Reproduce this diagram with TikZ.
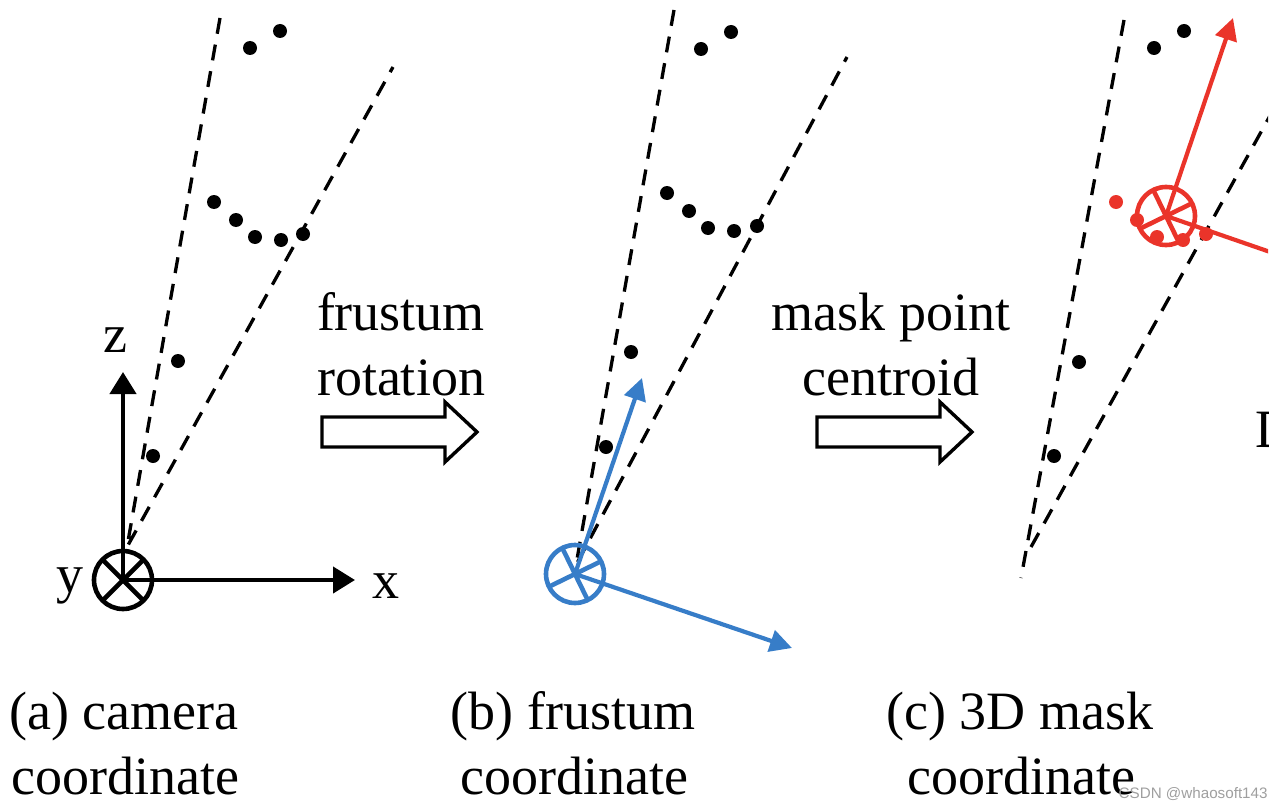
\documentclass[tikz,border=0pt]{standalone}
\usepackage{fontspec}
\setmainfont{Liberation Serif}
\setsansfont{Liberation Sans}
\usetikzlibrary{arrows.meta}
\definecolor{frameblue}{RGB}{55,125,200}
\definecolor{framered}{RGB}{234,52,42}

\begin{document}
\begin{tikzpicture}[x=0.5pt,y=-0.5pt,
    ray/.style={line width=1.65pt, dash pattern=on 8pt off 5.5pt},
    axis/.style={line width=2.1pt, -{Triangle[length=11pt,width=13pt]}},
    caxis/.style={line width=2.1pt, -{Triangle[length=11pt,width=11pt]}},
    ring/.style={line width=2.3pt},
    txt/.style={font=\fontsize{27pt}{32pt}\selectfont, inner sep=0pt, anchor=base},
    shaft/.style={line width=1.7pt, fill=white, line join=miter}]
  \useasboundingbox (0,0) rectangle (1284,808);
  \begin{scope}
    \clip (0,0) rectangle (1268,808);

    % (a) camera coordinate
    \coordinate (a0) at (127,547);
    \coordinate (a1) at (220,18);
    \coordinate (a2) at (393,67);
    \coordinate (ca) at (123,580);
    \coordinate (za) at (123,372);
    \coordinate (xa) at (355,580);

    \draw[ray] (a1) -- (a0) -- (a2);
    \foreach \p in {(250,48),(280,31),(214,202),(236,220),(255,237),(281,240),(303,234),(178,361),(153,456)}
      \fill \p circle[radius=3.5pt];

    \draw[ring] (ca) circle[radius=14.5pt];
    \draw[ring] (ca) +(45:14.5pt) -- +(225:14.5pt);
    \draw[ring] (ca) +(135:14.5pt) -- +(315:14.5pt);
    \draw[axis] (ca) -- (za);
    \draw[axis] (ca) -- (xa);

    \node[txt] (zl) at (115,352) {z};
    \node[txt] (yl) at (70,592) {y};
    \node[txt] (xl) at (386,598) {x};

    % (b) frustum coordinate
    \coordinate (b0) at (576,565);
    \coordinate (b1) at (674,10);
    \coordinate (b2) at (847,57);
    \coordinate (cb) at (575,574);
    \coordinate (zb) at (642,378);
    \coordinate (xb) at (792,648);

    \draw[ray] (b1) -- (b0) -- (b2);
    \foreach \p in {(701,49),(731,32),(667,193),(689,211),(708,228),(734,231),(757,226),(631,352),(606,447)}
      \fill \p circle[radius=3.5pt];

    \draw[ring, frameblue] (cb) circle[radius=14.5pt];
    \draw[ring, frameblue] (cb) +(26:14.5pt) -- +(206:14.5pt);
    \draw[ring, frameblue] (cb) +(116:14.5pt) -- +(296:14.5pt);
    \draw[caxis, frameblue] (cb) -- (zb);
    \draw[caxis, frameblue] (cb) -- (xb);

    % (c) 3D mask coordinate
    \coordinate (c0) at (1031,547);
    \coordinate (c1) at (1124,20);
    \coordinate (c2) at (1297,67);
    \coordinate (c3) at (1021,578);
    \coordinate (cc) at (1166,216);
    \coordinate (zc) at (1233,18);
    \coordinate (xc) at (1383,291);

    \draw[ray] (c1) -- (c3);
    \draw[ray] (c0) -- (c2);
    \foreach \p in {(1154,48),(1184,31),(1079,362),(1054,456)}
      \fill \p circle[radius=3.5pt];

    \draw[ring, framered] (cc) circle[radius=14.5pt];
    \draw[ring, framered] (cc) +(26:14.5pt) -- +(206:14.5pt);
    \draw[ring, framered] (cc) +(116:14.5pt) -- +(296:14.5pt);
    \draw[caxis, framered] (cc) -- (zc);
    \draw[caxis, framered] (cc) -- (xc);
    \foreach \p in {(1116,202),(1137,220),(1157,237),(1183,240),(1206,234)}
      \fill[framered] \p circle[radius=3.5pt];

    \node[txt, anchor=base west] (dl) at (1255,447) {D};

    % steps between the panels
    \coordinate (h1) at (322,417);
    \coordinate (h2) at (817,417);
    \draw[shaft] (h1) -- ++(123,0) -- ++(0,-15) -- ++(32,30) -- ++(-32,30) -- ++(0,-15) -- ++(-123,0) -- cycle;
    \draw[shaft] (h2) -- ++(123,0) -- ++(0,-15) -- ++(32,30) -- ++(-32,30) -- ++(0,-15) -- ++(-123,0) -- cycle;

    \node[txt] (s1a) at (401,330) {frustum};
    \node[txt] (s1b) at (401,395) {rotation};
    \node[txt] (s2a) at (891,330) {mask point};
    \node[txt] (s2b) at (891,395) {centroid};

    % captions
    \node[txt] (capa1) at (124,729) {(a) camera};
    \node[txt] (capa2) at (125,794) {coordinate};
    \node[txt] (capb1) at (573,729) {(b) frustum};
    \node[txt] (capb2) at (574,794) {coordinate};
    \node[txt] (capc1) at (1020,729) {(c) 3D mask};
    \node[txt] (capc2) at (1021,794) {coordinate};
  \end{scope}

  \node[font=\sffamily\fontsize{7.6pt}{9pt}\selectfont, text=gray!75, anchor=base east, inner sep=0pt] (wm) at (1268,798) {CSDN @whaosoft143};
\end{tikzpicture}
\end{document}
